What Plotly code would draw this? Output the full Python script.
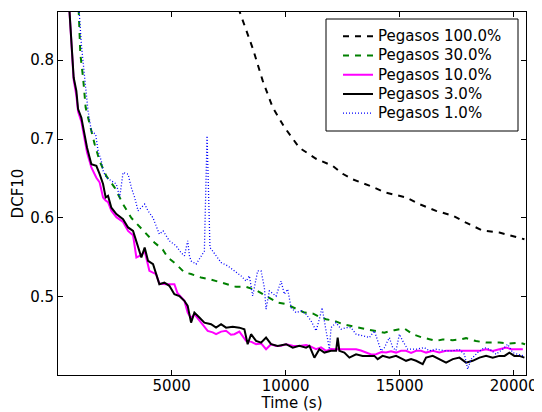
import plotly.graph_objects as go

# ---- data ----
s100_x = [7750, 8566, 8991, 9430, 9943, 10600, 11333, 12062, 12500, 12940, 13670, 14400,
          15280, 15864, 16596, 17325, 17910, 18640, 19370, 19960, 20470]
s100_y = [0.88, 0.814, 0.774, 0.740, 0.715, 0.689, 0.675, 0.666, 0.656, 0.649, 0.641, 0.632,
          0.626, 0.6175, 0.609, 0.603, 0.594, 0.584, 0.5815, 0.577, 0.573]

s30_x = [900, 995, 1114, 1228, 1404, 1623, 1842, 2136, 2500, 2868, 3232, 3745, 4241, 4605,
         4825, 5193, 5557, 5851, 6290, 6654, 6947, 7386, 7825, 8263, 8702, 9140, 9650, 10018,
         10456, 10820, 11184, 11478, 11772, 12136, 12500, 12794, 13158, 13526, 13890, 14329,
         14768, 15206, 15570, 15937, 16303, 16596, 16886, 17325, 17618, 17910, 18350, 18789,
         19370, 19810, 20249, 20500]
s30_y = [0.88, 0.8076, 0.778, 0.740, 0.719, 0.6935, 0.672, 0.653, 0.6385, 0.6175, 0.600,
         0.5836, 0.569, 0.560, 0.550, 0.5415, 0.531, 0.529, 0.5245, 0.5225, 0.520, 0.517,
         0.5127, 0.5127, 0.5085, 0.501, 0.4928, 0.4908, 0.4844, 0.4801, 0.479, 0.4746, 0.4717,
         0.4696, 0.4654, 0.4633, 0.4611, 0.459, 0.457, 0.4547, 0.4578, 0.460, 0.4527, 0.449,
         0.4464, 0.4442, 0.446, 0.4451, 0.446, 0.4477, 0.444, 0.4421, 0.4421, 0.441, 0.442,
         0.440]

s10_x = [480, 526, 645, 702, 820, 895, 1040, 1184, 1290, 1478, 1697, 1842, 1991, 2105, 2210,
         2355, 2575, 2868, 3088, 3307, 3452, 3671, 3816, 3965, 4022, 4315, 4460, 4753, 5119,
         5250, 5557, 5703, 5850, 5996, 6215, 6434, 6580, 6800, 6947, 7167, 7386, 7600, 7751,
         7969, 8263, 8500, 8702, 8921, 9140, 9360, 9579, 9800, 10018, 10310, 10600, 10895,
         11040, 11333, 11550, 11772, 11990, 12210, 12500, 12794, 13088, 13300, 13526, 13750,
         13965, 14200, 14403, 14620, 14840, 15060, 15281, 15500, 15720, 15940, 16157, 16450,
         16740, 17034, 17330, 17620, 17910, 18200, 18500, 18789, 19080, 19370, 19670, 19900,
         20150, 20400]
s10_y = [0.88, 0.855, 0.795, 0.775, 0.755, 0.735, 0.722, 0.700, 0.683, 0.664, 0.651, 0.645,
         0.626, 0.622, 0.620, 0.609, 0.601, 0.595, 0.5836, 0.578, 0.550, 0.553, 0.558, 0.540,
         0.533, 0.5288, 0.517, 0.516, 0.516, 0.505, 0.495, 0.480, 0.473, 0.478, 0.470, 0.461,
         0.4569, 0.455, 0.4527, 0.456, 0.457, 0.452, 0.4527, 0.456, 0.4442, 0.443, 0.440,
         0.441, 0.4337, 0.440, 0.4379, 0.438, 0.440, 0.438, 0.4379, 0.439, 0.4379, 0.4337,
         0.436, 0.4316, 0.434, 0.4337, 0.4337, 0.434, 0.4337, 0.432, 0.4294, 0.427, 0.4273,
         0.430, 0.4294, 0.431, 0.4294, 0.4316, 0.4316, 0.429, 0.4316, 0.4316, 0.4294, 0.4316,
         0.4294, 0.4316, 0.4316, 0.4316, 0.4316, 0.432, 0.4316, 0.4337, 0.4316, 0.4337, 0.4357,
         0.4337, 0.4337, 0.4337]

s3_x = [480, 526, 645, 702, 820, 895, 1040, 1184, 1290, 1478, 1697, 1842, 1991, 2105, 2210,
        2355, 2575, 2868, 3088, 3307, 3452, 3671, 3816, 3965, 4184, 4300, 4460, 4680, 4899,
        5119, 5338, 5557, 5703, 5851, 5996, 6215, 6434, 6728, 6947, 7167, 7386, 7676, 7969,
        8189, 8333, 8482, 8702, 8921, 9140, 9360, 9650, 10018, 10310, 10600, 10895, 11040,
        11259, 11478, 11698, 11990, 12210, 12281, 12355, 12574, 12794, 13088, 13377, 13670,
        13890, 14035, 14250, 14548, 14840, 15132, 15280, 15500, 15720, 16010, 16157, 16450,
        16740, 17034, 17330, 17620, 17910, 18200, 18500, 18790, 19080, 19370, 19600, 19810,
        20030, 20250, 20470]
s3_y = [0.88, 0.858, 0.799, 0.778, 0.761, 0.738, 0.727, 0.706, 0.689, 0.668, 0.666, 0.6555,
        0.643, 0.626, 0.628, 0.613, 0.605, 0.5985, 0.588, 0.5836, 0.571, 0.550, 0.5625,
        0.5456, 0.5414, 0.531, 0.5161, 0.518, 0.514, 0.5034, 0.501, 0.495, 0.4886, 0.4674,
        0.480, 0.4738, 0.4674, 0.4654, 0.461, 0.4654, 0.461, 0.462, 0.461, 0.459, 0.440,
        0.4527, 0.4442, 0.442, 0.4484, 0.440, 0.4379, 0.440, 0.4357, 0.4379, 0.4357, 0.4379,
        0.423, 0.4337, 0.4294, 0.4316, 0.4316, 0.4484, 0.4316, 0.4294, 0.423, 0.4273, 0.4252,
        0.4252, 0.4252, 0.4211, 0.4252, 0.423, 0.4252, 0.4211, 0.419, 0.4211, 0.419, 0.4147,
        0.423, 0.4252, 0.4211, 0.4167, 0.4211, 0.423, 0.4167, 0.419, 0.423, 0.4252, 0.423,
        0.4252, 0.4252, 0.4294, 0.4252, 0.4252, 0.423]

s1_x = [900, 1040, 1184, 1333, 1478, 1667, 1772, 1917, 1991, 2136, 2355, 2575, 2720, 2868,
        3088, 3232, 3377, 3526, 3816, 3965, 4184, 4329, 4460, 4623, 4899, 5193, 5412, 5560,
        5702, 5780, 5851, 6070, 6290, 6434, 6552, 6680, 6800, 6947, 7167, 7457, 7750, 8044,
        8263, 8408, 8553, 8772, 8921, 9066, 9140, 9285, 9579, 9798, 9943, 10088, 10237,
        10456, 10675, 10895, 11114, 11333, 11478, 11597, 11772, 11917, 11990, 12210, 12430,
        12650, 12868, 13088, 13377, 13670, 13890, 14035, 14184, 14329, 14548, 14694, 14840,
        14987, 15132, 15350, 15720, 16083, 16303, 16596, 17034, 17325, 17600, 17838, 17983,
        18130, 18420, 18715, 18950, 19228, 19517, 19737, 19956, 20175, 20470]
s1_y = [0.88, 0.820, 0.778, 0.7357, 0.710, 0.706, 0.685, 0.672, 0.660, 0.6512, 0.647, 0.643,
        0.626, 0.6575, 0.6555, 0.6385, 0.626, 0.609, 0.6175, 0.609, 0.600, 0.5878, 0.5795,
        0.5836, 0.571, 0.5647, 0.556, 0.552, 0.571, 0.552, 0.5456, 0.5414, 0.552, 0.558,
        0.704, 0.5625, 0.558, 0.552, 0.5435, 0.5393, 0.533, 0.5266, 0.520, 0.5266, 0.501,
        0.533, 0.533, 0.5118, 0.4844, 0.5076, 0.501, 0.520, 0.5034, 0.5097, 0.4864, 0.480,
        0.4823, 0.478, 0.4696, 0.457, 0.4717, 0.4864, 0.457, 0.4337, 0.461, 0.4674, 0.459,
        0.461, 0.461, 0.4527, 0.4506, 0.4484, 0.457, 0.4442, 0.4316, 0.4357, 0.4484, 0.4357,
        0.432, 0.4527, 0.4442, 0.4337, 0.4337, 0.4357, 0.4316, 0.4337, 0.4316, 0.4316,
        0.4337, 0.4273, 0.4084, 0.421, 0.4294, 0.4357, 0.4337, 0.4273, 0.4337, 0.440,
        0.4294, 0.4273, 0.4252]

series_names = ["Pegasos 100.0%", "Pegasos 30.0%", "Pegasos 10.0%", "Pegasos 3.0%", "Pegasos 1.0%"]

x_ticks = [5000, 10000, 15000, 20000]
y_ticks = [0.5, 0.6, 0.7, 0.8]

FONT = "DejaVu Sans"
FS = 15

# page body adds an 8px offset, so the figure is 8px smaller than the window
W, H = 534, 404
ML, MR, MT, MB = 50, 16, 4, 37
PW, PH = W - ML - MR, H - MT - MB

def lname(s):
    return "<span style='font-size:15px'>" + s + "</span>"

styles = [
    dict(color="black", width=2, dash="6px,6px"),
    dict(color="#008000", width=2, dash="6px,6px"),
    dict(color="#ff00ff", width=2),
    dict(color="black", width=2),
    dict(color="#0000ff", width=1.3, dash="1px,2px"),
]
xs = [s100_x, s30_x, s10_x, s3_x, s1_x]
ys = [s100_y, s30_y, s10_y, s3_y, s1_y]

fig = go.Figure()
for name, sx, sy, st in zip(series_names, xs, ys, styles):
    fig.add_trace(go.Scatter(x=sx, y=sy, mode="lines", name=lname(name), line=st))

axis_common = dict(showgrid=False, zeroline=False, showline=True, linecolor="black",
                   linewidth=1, mirror="ticks", ticks="inside", ticklen=5, tickwidth=1,
                   tickcolor="black", automargin=False,
                   tickfont=dict(family=FONT, size=FS, color="black"))

def px2fx(px):
    return (px - ML) / PW
def py2fy(py):
    return (H - MB - py) / PH

# legend frame (matplotlib-style box), figure pixel coords
box_l, box_r, box_t, box_b = 318, 510, 11, 123
fig.add_shape(type="rect", xref="paper", yref="paper",
              x0=px2fx(box_l), x1=px2fx(box_r), y0=py2fy(box_b), y1=py2fy(box_t),
              line=dict(color="black", width=1), fillcolor="white", layer="above")

fig.update_layout(
    width=W, height=H,
    margin=dict(l=ML, r=MR, t=MT, b=MB, pad=0),
    paper_bgcolor="white", plot_bgcolor="white",
    font=dict(family=FONT, size=FS, color="black"),
    xaxis=dict(range=[15, 20540], tickvals=x_ticks, ticktext=[str(v) for v in x_ticks],
               ticklabelstandoff=-3,
               title=dict(text="Time (s)", font=dict(family=FONT, size=FS), standoff=2),
               **axis_common),
    yaxis=dict(range=[0.401, 0.861], tickvals=y_ticks, ticktext=[str(v) for v in y_ticks],
               title=dict(text="DCF10", font=dict(family=FONT, size=FS), standoff=2),
               **axis_common),
    legend=dict(x=px2fx(330), y=py2fy(13.5), xanchor="left", yanchor="top",
                bgcolor="rgba(0,0,0,0)", borderwidth=0,
                font=dict(family=FONT, size=12.5, color="black"), tracegroupgap=0,
                itemwidth=30),
    showlegend=True,
)

fig.write_html("out.html")
